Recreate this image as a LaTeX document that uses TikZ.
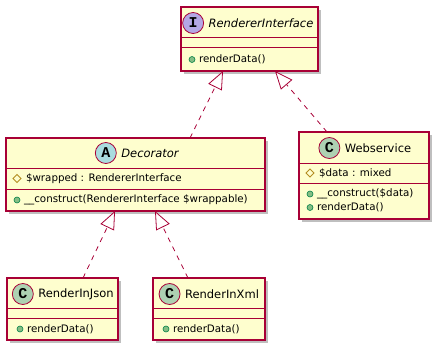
\documentclass[tikz,border=0pt]{standalone}
\usepackage{fontspec}
\setmainfont{DejaVu Sans}
\newfontfamily\spotfont{Liberation Mono}
\usetikzlibrary{arrows.meta,positioning,shadows,shapes.geometric}
\definecolor{umlborder}{HTML}{A80036}
\definecolor{umlfill}{HTML}{FEFECE}
\definecolor{spotI}{HTML}{B4A7E5}
\definecolor{spotA}{HTML}{A9DCDF}
\definecolor{spotC}{HTML}{ADD1B2}
\definecolor{pubfill}{HTML}{84BE84}
\definecolor{pubdraw}{HTML}{038048}
\definecolor{protdraw}{HTML}{B38D22}

\begin{document}
\begin{tikzpicture}[
		x=1pt, y=-1pt,
		every node/.style={inner sep=0pt, outer sep=0pt},
		classbox/.style={
			draw=umlborder,
			fill=umlfill,
			line width=1.1pt,
			rectangle,
			anchor=north west,
			drop shadow={shadow xshift=3pt, shadow yshift=-3pt, fill=black, opacity=0.25}
		},
		sepline/.style={draw=umlborder, line width=1pt},
		spot/.style={
			circle,
			draw=umlborder,
			line width=0.8pt,
			minimum size=21pt,
			font=\spotfont\bfseries\fontsize{15}{15}\selectfont
		},
		classname/.style={font=\fontsize{11.5}{14}\selectfont},
		abstractname/.style={font=\fontsize{11.5}{14}\selectfont\itshape},
		member/.style={anchor=west, font=\fontsize{10.3}{12}\selectfont},
		pubdot/.style={circle, draw=pubdraw, fill=pubfill, line width=0.6pt, minimum size=6pt},
		protmark/.style={diamond, draw=protdraw, line width=0.8pt, minimum size=8pt},
		realize/.style={
			draw=umlborder,
			line width=0.8pt,
			dash pattern=on 5pt off 5pt,
			-{Triangle[length=18pt, width=15pt, fill=white]}
		}
		]
		
		\useasboundingbox (0,0) rectangle (446,350);
		
		% RendererInterface
		\node[classbox, minimum width=137pt, minimum height=64pt] (ri) at (181,7) {};
		\draw[sepline] ([yshift=-31pt]ri.north west) -- ([yshift=-31pt]ri.north east);
		\draw[sepline] ([yshift=-41pt]ri.north west) -- ([yshift=-41pt]ri.north east);
		\node[abstractname] (riName) at (261,23) {RendererInterface};
		\node[spot, fill=spotI, left=5pt of riName] (riSpot) {I};
		\node[pubdot] (riDot1) at (192,59.5) {};
		\node[member, right=4pt of riDot1] (riM1) {renderData()};
		
		% Decorator
		\node[classbox, minimum width=259pt, minimum height=73pt] (dec) at (6,138) {};
		\draw[sepline] ([yshift=-30pt]dec.north west) -- ([yshift=-30pt]dec.north east);
		\draw[sepline] ([yshift=-51pt]dec.north west) -- ([yshift=-51pt]dec.north east);
		\node[abstractname] (decName) at (150,153) {Decorator};
		\node[spot, fill=spotA, left=5pt of decName] (decSpot) {A};
		\node[protmark] (decMark1) at (17,178.5) {};
		\node[member, right=5pt of decMark1] (decF1) {\$wrapped : RendererInterface};
		\node[pubdot] (decDot1) at (17,200) {};
		\node[member, right=4pt of decDot1] (decM1) {\_\_construct(RendererInterface \$wrappable)};
		
		% Webservice
		\node[classbox, minimum width=130pt, minimum height=87pt] (ws) at (299,132) {};
		\draw[sepline] ([yshift=-31pt]ws.north west) -- ([yshift=-31pt]ws.north east);
		\draw[sepline] ([yshift=-51pt]ws.north west) -- ([yshift=-51pt]ws.north east);
		\node[classname] (wsName) at (378,148) {Webservice};
		\node[spot, fill=spotC, left=5pt of wsName] (wsSpot) {C};
		\node[protmark] (wsMark1) at (310,173) {};
		\node[member, right=5pt of wsMark1] (wsF1) {\$data : mixed};
		\node[pubdot] (wsDot1) at (310,194) {};
		\node[member, right=4pt of wsDot1] (wsM1) {\_\_construct(\$data)};
		\node[pubdot] (wsDot2) at (310,207.5) {};
		\node[member, right=4pt of wsDot2] (wsM2) {renderData()};
		
		% RenderInJson
		\node[classbox, minimum width=111pt, minimum height=62pt] (json) at (7,278) {};
		\draw[sepline] ([yshift=-30pt]json.north west) -- ([yshift=-30pt]json.north east);
		\draw[sepline] ([yshift=-40pt]json.north west) -- ([yshift=-40pt]json.north east);
		\node[classname] (jsonName) at (76,294) {RenderInJson};
		\node[spot, fill=spotC, left=5pt of jsonName] (jsonSpot) {C};
		\node[pubdot] (jsonDot1) at (20,329) {};
		\node[member, right=4pt of jsonDot1] (jsonM1) {renderData()};
		
		% RenderInXml
		\node[classbox, minimum width=112pt, minimum height=62pt] (xml) at (153,278) {};
		\draw[sepline] ([yshift=-30pt]xml.north west) -- ([yshift=-30pt]xml.north east);
		\draw[sepline] ([yshift=-40pt]xml.north west) -- ([yshift=-40pt]xml.north east);
		\node[classname] (xmlName) at (222,294) {RenderInXml};
		\node[spot, fill=spotC, left=5pt of xmlName] (xmlSpot) {C};
		\node[pubdot] (xmlDot1) at (166,329) {};
		\node[member, right=4pt of xmlDot1] (xmlM1) {renderData()};
		
		% Realizations
		\draw[realize] ([xshift=54.5pt]dec.north) -- ([xshift=-26.5pt]ri.south);
		\draw[realize] ([xshift=-37pt]ws.north) -- ([xshift=25.5pt]ri.south);
		\draw[realize] ([xshift=20.5pt]json.north) -- ([xshift=-20.5pt]dec.south);
		\draw[realize] ([xshift=-21pt]xml.north) -- ([xshift=19.5pt]dec.south);
		
	\end{tikzpicture}
\end{document}
